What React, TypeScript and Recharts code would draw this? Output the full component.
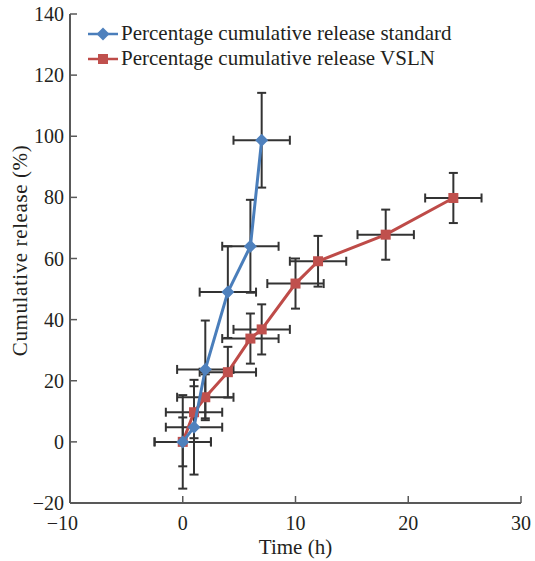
import React from 'react';
import { ScatterChart, Scatter, XAxis, YAxis, ErrorBar } from 'recharts';

const timeStd = [0, 1, 2, 4, 6, 7];
const releaseStd = [0, 4.8, 23.7, 49, 64, 98.7];
const errStdY = [15.3, 15.5, 16, 15, 15.2, 15.5];
const errStdX = [2.5, 2.5, 2.5, 2.5, 2.5, 2.5];

const timeVsln = [0, 1, 2, 4, 6, 7, 10, 12, 18, 24];
const releaseVsln = [0, 9.7, 14.6, 22.8, 33.8, 36.8, 51.8, 59.1, 67.8, 79.8];
const errVslnY = [8, 8.5, 7.5, 8.3, 8.2, 8.2, 8.2, 8.3, 8.2, 8.2];
const errVslnX = [2.5, 2.5, 2.5, 2.5, 2.5, 2.5, 2.5, 2.5, 2.5, 2.5];

const xTicks = [-10, 0, 10, 20, 30];
const yTicks = [-20, 0, 20, 40, 60, 80, 100, 120, 140];

const seriesNames = ['Percentage cumulative release standard', 'Percentage cumulative release VSLN'];

const stdData = timeStd.map((t, i) => ({ x: t, y: releaseStd[i], ex: errStdX[i], ey: errStdY[i] }));
const vslnData = timeVsln.map((t, i) => ({ x: t, y: releaseVsln[i], ex: errVslnX[i], ey: errVslnY[i] }));

const FONT = "'Liberation Serif', serif";
const TXT = { fontFamily: FONT, fontSize: 20 };
const LBL = { fontFamily: FONT, fontSize: 21 };
const BLUE = '#4A7EBB';
const RED = '#BE4B48';
const AXIS = '#595959';
const ERR = '#333333';

const fmt = (v: number) => (v < 0 ? '\u2212' + Math.abs(v) : String(v));

const Diamond = (props: any) => {
  const { cx, cy } = props;
  if (cx == null || cy == null) return null;
  const r = 6.5;
  return <path d={`M${cx},${cy - r}L${cx + r},${cy}L${cx},${cy + r}L${cx - r},${cy}Z`} fill="#4F81BD" />;
};

const Square = (props: any) => {
  const { cx, cy } = props;
  if (cx == null || cy == null) return null;
  const s = 5;
  return <rect x={cx - s} y={cy - s} width={2 * s} height={2 * s} fill="#C0504D" />;
};

const Nothing = () => <g />;

const XTick = (props: any) => {
  const { x, y, payload } = props;
  const v = payload.value;
  const neg = v < 0;
  return (
    <text x={neg ? x + 8 : x} y={y} dy="0.71em" textAnchor={neg ? 'end' : 'middle'} style={TXT} fill="#231f20">
      {fmt(v)}
    </text>
  );
};

const YTick = (props: any) => {
  const { x, y, payload } = props;
  return (
    <text x={x} y={y} dy="0.355em" textAnchor="end" style={TXT} fill="#231f20">
      {fmt(payload.value)}
    </text>
  );
};

const LegendBox = () => (
  <div
    style={{
      position: 'absolute',
      left: 87,
      top: 21,
      fontFamily: FONT,
      fontSize: 21,
      color: '#231f20',
      lineHeight: '25px',
    }}
  >
    {[0, 1].map((i) => (
      <div key={i} style={{ display: 'flex', alignItems: 'center', whiteSpace: 'nowrap', height: 25 }}>
        <svg width={34} height={20} style={{ display: 'block' }}>
          <line x1={1} y1={10} x2={31} y2={10} stroke={i === 0 ? BLUE : RED} strokeWidth={2.5} />
          {i === 0 ? (
            <path d="M16,3.5L22.5,10L16,16.5L9.5,10Z" fill="#4F81BD" />
          ) : (
            <rect x={11} y={5} width={10} height={10} fill="#C0504D" />
          )}
        </svg>
        <span>{seriesNames[i]}</span>
      </div>
    ))}
  </div>
);

export default function App() {
  return (
    <div style={{ position: 'absolute', left: 0, top: 0, width: 535, height: 561, background: '#fff', fontFamily: FONT }}>
      <ScatterChart width={535} height={561} margin={{ top: 14, right: 14, left: 10, bottom: 18 }} style={{ fontFamily: FONT }}>
        <XAxis
          type="number"
          dataKey="x"
          domain={[-10, 30]}
          ticks={xTicks}
          allowDataOverflow
          height={40}
          tickSize={-7}
          tickMargin={20}
          tick={<XTick />}
          axisLine={{ stroke: AXIS, strokeWidth: 2 }}
          tickLine={{ stroke: AXIS, strokeWidth: 1.5 }}
          label={{
            content: (p: any) => {
              const vb = p.viewBox || {};
              return (
                <text x={vb.x + vb.width / 2} y={vb.y + 51} textAnchor="middle" style={LBL} fill="#231f20">
                  Time (h)
                </text>
              );
            },
          }}
        />
        <YAxis
          type="number"
          dataKey="y"
          domain={[-20, 140]}
          ticks={yTicks}
          allowDataOverflow
          width={60}
          tickSize={-7}
          tickMargin={13}
          tick={<YTick />}
          axisLine={{ stroke: AXIS, strokeWidth: 2 }}
          tickLine={{ stroke: AXIS, strokeWidth: 1.5 }}
          label={{
            content: (p: any) => {
              const vb = p.viewBox || {};
              const cx = vb.x + 10;
              const cy = vb.y + vb.height / 2 - 8;
              return (
                <text
                  x={cx}
                  y={cy}
                  transform={`rotate(-90 ${cx} ${cy})`}
                  textAnchor="middle"
                  dominantBaseline="central"
                  style={{ ...LBL, letterSpacing: 0.6 }}
                  fill="#231f20"
                >
                  Cumulative release (%)
                </text>
              );
            },
          }}
        />
        <Scatter data={vslnData} shape={<Nothing />} isAnimationActive={false} legendType="none">
          <ErrorBar dataKey="ey" direction="y" width={4.5} stroke={ERR} strokeWidth={2} />
          <ErrorBar dataKey="ex" direction="x" width={4.5} stroke={ERR} strokeWidth={2} />
        </Scatter>
        <Scatter data={stdData} shape={<Nothing />} isAnimationActive={false} legendType="none">
          <ErrorBar dataKey="ey" direction="y" width={4.5} stroke={ERR} strokeWidth={2} />
          <ErrorBar dataKey="ex" direction="x" width={4.5} stroke={ERR} strokeWidth={2} />
        </Scatter>
        <Scatter
          name={seriesNames[1]}
          data={vslnData}
          line={{ stroke: RED, strokeWidth: 3 }}
          lineType="joint"
          shape={<Square />}
          isAnimationActive={false}
        />
        <Scatter
          name={seriesNames[0]}
          data={stdData}
          line={{ stroke: BLUE, strokeWidth: 3 }}
          lineType="joint"
          shape={<Diamond />}
          isAnimationActive={false}
        />
      </ScatterChart>
      <LegendBox />
    </div>
  );
}
